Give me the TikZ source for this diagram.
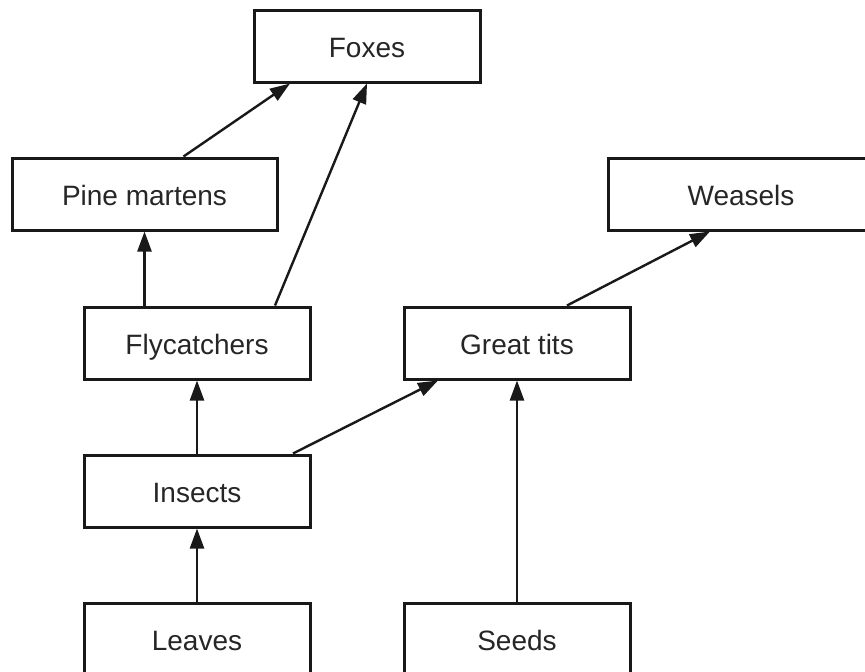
\documentclass[tikz,border=0pt]{standalone}
\usepackage{fontspec}
\setmainfont{Liberation Sans}
\usetikzlibrary{arrows.meta}
\tikzset{
  box/.style={draw=black!90, line width=3pt, fill=white, minimum width=226pt, minimum height=72pt, inner sep=0pt, text height=22pt, text depth=0pt, font=\fontsize{28}{32}\selectfont, text=black!85},
  widebox/.style={box, minimum width=265pt},
  arr/.style={draw=black!90, line width=2.4pt, -{Triangle[length=20pt, width=14pt]}}
}
\begin{document}
\begin{tikzpicture}[x=1pt, y=-1pt]
\useasboundingbox (0,0) rectangle (865,672);
\node[box] (fox) at (367,46) {Foxes};
\node[widebox] (pm) at (144.5,194) {Pine martens};
\node[widebox] (wea) at (741,194) {Weasels};
\node[box] (fly) at (197,343) {Flycatchers};
\node[box] (gt) at (517,343) {Great tits};
\node[box] (ins) at (197,491) {Insects};
\node[box] (lea) at (197,639.5) {Leaves};
\node[box] (see) at (517,639.5) {Seeds};

\draw[arr] ([xshift=39pt]pm.north) -- ([xshift=-77pt]fox.south);
\draw[arr] ([xshift=78pt]fly.north) -- (fox.south);
\draw[arr] ([xshift=-52.5pt]fly.north) -- (pm.south);
\draw[arr] (ins.north) -- (fly.south);
\draw[arr] ([xshift=96pt]ins.north) -- ([xshift=-79pt]gt.south);
\draw[arr] ([xshift=50pt]gt.north) -- ([xshift=-31pt]wea.south);
\draw[arr] (lea.north) -- (ins.south);
\draw[arr] (see.north) -- (gt.south);
\end{tikzpicture}
\end{document}
